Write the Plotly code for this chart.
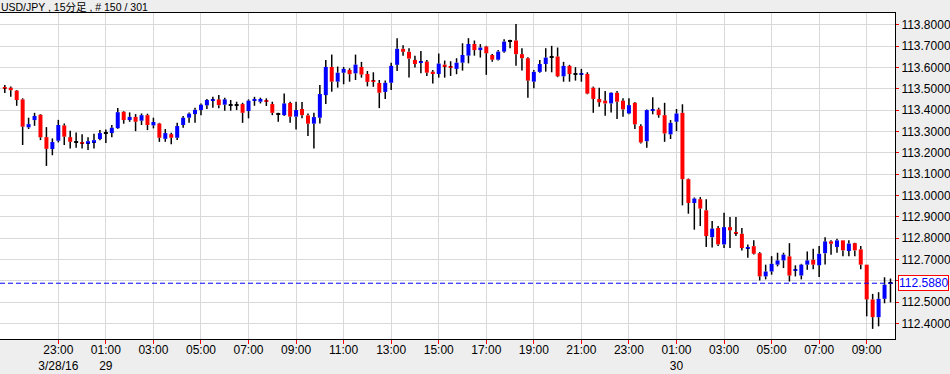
import pandas as pd
import plotly.graph_objects as go

# ---------------- data ----------------
start_time = "2016-03-28 20:45"
n_bars = 150

opens = [113.508, 113.505, 113.491, 113.450, 113.319, 113.353, 113.378, 113.273, 113.217, 113.256,
         113.328, 113.273, 113.248, 113.248, 113.245, 113.250, 113.264, 113.292, 113.292, 113.315,
         113.392, 113.353, 113.368, 113.350, 113.376, 113.328, 113.337, 113.265, 113.287, 113.270,
         113.330, 113.364, 113.381, 113.400, 113.422, 113.444, 113.450, 113.425, 113.422, 113.422,
         113.428, 113.395, 113.444, 113.439, 113.444, 113.428, 113.381, 113.376, 113.433, 113.369,
         113.405, 113.375, 113.336, 113.364, 113.470, 113.602, 113.533, 113.575, 113.588, 113.572,
         113.602, 113.569, 113.536, 113.527, 113.485, 113.528, 113.612, 113.687, 113.673, 113.635,
         113.621, 113.627, 113.580, 113.569, 113.613, 113.602, 113.593, 113.622, 113.655, 113.710,
         113.681, 113.698, 113.658, 113.636, 113.674, 113.726, 113.726, 113.662, 113.643, 113.533,
         113.579, 113.616, 113.648, 113.651, 113.558, 113.607, 113.569, 113.568, 113.569, 113.505,
         113.452, 113.444, 113.431, 113.481, 113.444, 113.384, 113.434, 113.325, 113.254, 113.397,
         113.403, 113.376, 113.286, 113.345, 113.387, 113.076, 112.964, 112.982, 112.930, 112.804,
         112.847, 112.770, 112.851, 112.828, 112.820, 112.753, 112.762, 112.729, 112.620, 112.643,
         112.675, 112.695, 112.714, 112.648, 112.624, 112.675, 112.698, 112.672, 112.729, 112.784,
         112.758, 112.789, 112.739, 112.776, 112.747, 112.675, 112.512, 112.429, 112.515, 112.588]

highs = [113.517, 113.510, 113.494, 113.455, 113.364, 113.387, 113.381, 113.320, 113.267, 113.354,
         113.337, 113.303, 113.295, 113.287, 113.273, 113.289, 113.307, 113.309, 113.330, 113.409,
         113.395, 113.389, 113.381, 113.384, 113.383, 113.364, 113.340, 113.311, 113.293, 113.340,
         113.372, 113.389, 113.411, 113.431, 113.452, 113.462, 113.470, 113.458, 113.447, 113.439,
         113.434, 113.450, 113.462, 113.458, 113.455, 113.439, 113.387, 113.478, 113.439, 113.439,
         113.438, 113.384, 113.387, 113.517, 113.635, 113.660, 113.604, 113.602, 113.596, 113.660,
         113.626, 113.583, 113.577, 113.541, 113.538, 113.622, 113.737, 113.704, 113.690, 113.654,
         113.677, 113.635, 113.588, 113.665, 113.632, 113.629, 113.643, 113.713, 113.737, 113.726,
         113.709, 113.701, 113.663, 113.682, 113.732, 113.729, 113.804, 113.690, 113.648, 113.588,
         113.635, 113.690, 113.701, 113.693, 113.626, 113.612, 113.601, 113.593, 113.577, 113.510,
         113.505, 113.489, 113.483, 113.489, 113.455, 113.455, 113.438, 113.333, 113.403, 113.460,
         113.411, 113.434, 113.353, 113.405, 113.427, 113.079, 112.990, 112.992, 112.982, 112.880,
         112.856, 112.919, 112.898, 112.898, 112.847, 112.769, 112.789, 112.734, 112.675, 112.715,
         112.731, 112.731, 112.776, 112.672, 112.679, 112.737, 112.750, 112.762, 112.804, 112.789,
         112.797, 112.789, 112.789, 112.778, 112.762, 112.675, 112.538, 112.546, 112.616, 112.610]

lows = [113.480, 113.462, 113.420, 113.236, 113.311, 113.326, 113.259, 113.138, 113.188, 113.248,
        113.236, 113.220, 113.223, 113.220, 113.213, 113.220, 113.258, 113.245, 113.272, 113.311,
        113.336, 113.345, 113.301, 113.330, 113.306, 113.314, 113.251, 113.251, 113.240, 113.259,
        113.317, 113.340, 113.340, 113.376, 113.405, 113.411, 113.408, 113.397, 113.397, 113.400,
        113.340, 113.361, 113.420, 113.431, 113.419, 113.376, 113.345, 113.372, 113.340, 113.309,
        113.361, 113.278, 113.220, 113.337, 113.428, 113.486, 113.505, 113.521, 113.533, 113.541,
        113.552, 113.511, 113.509, 113.409, 113.452, 113.494, 113.583, 113.655, 113.552, 113.599,
        113.572, 113.560, 113.525, 113.552, 113.552, 113.560, 113.568, 113.585, 113.619, 113.655,
        113.646, 113.565, 113.627, 113.632, 113.669, 113.690, 113.608, 113.585, 113.458, 113.502,
        113.575, 113.580, 113.577, 113.554, 113.533, 113.533, 113.538, 113.533, 113.474, 113.387,
        113.415, 113.373, 113.389, 113.358, 113.369, 113.380, 113.311, 113.243, 113.223, 113.380,
        113.364, 113.251, 113.264, 113.301, 112.953, 112.914, 112.839, 112.856, 112.758, 112.755,
        112.762, 112.753, 112.753, 112.809, 112.742, 112.708, 112.723, 112.601, 112.606, 112.628,
        112.667, 112.659, 112.596, 112.620, 112.606, 112.651, 112.653, 112.617, 112.676, 112.722,
        112.731, 112.715, 112.715, 112.715, 112.653, 112.433, 112.374, 112.386, 112.494, 112.498]

closes = [113.503, 113.493, 113.447, 113.322, 113.334, 113.372, 113.272, 113.218, 113.250, 113.330,
          113.275, 113.251, 113.248, 113.245, 113.254, 113.259, 113.292, 113.292, 113.317, 113.390,
          113.353, 113.368, 113.345, 113.376, 113.330, 113.344, 113.270, 113.292, 113.270, 113.325,
          113.364, 113.383, 113.401, 113.425, 113.447, 113.450, 113.423, 113.450, 113.422, 113.422,
          113.387, 113.444, 113.452, 113.452, 113.441, 113.387, 113.381, 113.431, 113.369, 113.400,
          113.376, 113.336, 113.367, 113.475, 113.602, 113.533, 113.575, 113.593, 113.568, 113.613,
          113.566, 113.532, 113.532, 113.481, 113.528, 113.607, 113.687, 113.673, 113.641, 113.616,
          113.626, 113.575, 113.569, 113.618, 113.604, 113.599, 113.622, 113.658, 113.710, 113.681,
          113.693, 113.666, 113.636, 113.674, 113.721, 113.726, 113.662, 113.643, 113.538, 113.579,
          113.616, 113.646, 113.648, 113.558, 113.607, 113.569, 113.569, 113.571, 113.477, 113.452,
          113.436, 113.431, 113.481, 113.439, 113.403, 113.423, 113.333, 113.248, 113.400, 113.403,
          113.376, 113.290, 113.340, 113.384, 113.076, 112.964, 112.985, 112.938, 112.809, 112.844,
          112.770, 112.851, 112.836, 112.823, 112.753, 112.758, 112.726, 112.620, 112.643, 112.679,
          112.695, 112.722, 112.624, 112.651, 112.675, 112.695, 112.675, 112.726, 112.784, 112.773,
          112.789, 112.742, 112.774, 112.742, 112.675, 112.512, 112.429, 112.515, 112.581, 112.588]

last_price = 112.588
last_price_label = "112.5880"

y_tick_values = [112.4, 112.5, 112.6, 112.7, 112.8, 112.9, 113.0, 113.1, 113.2, 113.3,
                 113.4, 113.5, 113.6, 113.7, 113.8]
y_tick_labels = ["112.4000", "112.5000", "", "112.7000", "112.8000", "112.9000", "113.0000",
                 "113.1000", "113.2000", "113.3000", "113.4000", "113.5000", "113.6000",
                 "113.7000", "113.8000"]

tick_times = pd.date_range("2016-03-28 23:00", "2016-03-30 09:00", freq="2h")
tick_labels = ["23:00<br>3/28/16", "01:00<br>29", "03:00", "05:00", "07:00", "09:00",
               "11:00", "13:00", "15:00", "17:00", "19:00", "21:00", "23:00",
               "01:00<br>30", "03:00", "05:00", "07:00", "09:00"]

title_text = "USD/JPY , 15分足 , # 150 / 301"

# ---------------- styling ----------------
UP = "#0000FF"
DOWN = "#FF0000"
DOJI = "#000000"
FONT = "Liberation Sans, Arial, Noto Sans CJK JP, sans-serif"
bar_ms = 15 * 60 * 1000
body_width = bar_ms * 0.67
min_body = 0.005

times = pd.date_range(start_time, periods=n_bars, freq="15min")

# wicks are drawn as two pieces (above and below the body)
wick_x, wick_y = [], []
for t, o, h, l, c in zip(times, opens, highs, lows, closes):
    top, bot = max(o, c), min(o, c)
    if h > top:
        wick_x += [t, t, None]
        wick_y += [top, h, None]
    if l < bot:
        wick_x += [t, t, None]
        wick_y += [l, bot, None]

body_base, body_h, body_col = [], [], []
for o, c in zip(opens, closes):
    lo, hi = min(o, c), max(o, c)
    h = hi - lo
    if h < min_body:
        mid = (lo + hi) / 2
        lo = mid - min_body / 2
        h = min_body
    body_base.append(lo)
    body_h.append(h)
    body_col.append(UP if c > o else (DOWN if c < o else DOJI))

fig = go.Figure()
fig.add_trace(go.Bar(x=times, y=body_h, base=body_base, width=body_width,
                     marker=dict(color=body_col, line=dict(width=0)),
                     showlegend=False))
fig.add_trace(go.Scatter(x=wick_x, y=wick_y, mode="lines",
                         line=dict(color="#000000", width=1.5),
                         hoverinfo="skip", showlegend=False))

fig.add_shape(type="line", xref="paper", x0=0, x1=1, yref="y",
              y0=last_price, y1=last_price,
              line=dict(color="#0000FF", width=1, dash="5px,3px"))

fig.add_annotation(xref="paper", x=1, xanchor="left", xshift=3,
                   yref="y", y=last_price, yanchor="middle",
                   text=last_price_label, showarrow=False,
                   font=dict(family=FONT, size=12, color="#0000FF"),
                   bgcolor="#FFFFFF", bordercolor="#FF0000", borderwidth=1, borderpad=0)

x_start = times[0] - pd.Timedelta(minutes=15 * 0.81)
x_end = times[0] + pd.Timedelta(minutes=15 * 149.76)

fig.update_layout(
    template="none",
    width=950, height=374,
    margin=dict(l=0, r=55, t=13, b=35, autoexpand=False),
    paper_bgcolor="#EEEEEE",
    plot_bgcolor="#FFFFFF",
    font=dict(family=FONT, size=12, color="#000000"),
    barmode="overlay",
    title=dict(text=title_text, x=0.001, xanchor="left", xref="container",
               y=1 - 7 / 374, yanchor="middle", yref="container", automargin=False,
               font=dict(family=FONT, size=10.5, color="#000000")),
    xaxis=dict(type="date", range=[x_start, x_end], automargin=False,
               tickvals=list(tick_times), ticktext=tick_labels,
               ticks="outside", ticklen=4, tickcolor="#FF0000", tickwidth=1,
               ticklabelstandoff=-4,
               showgrid=True, gridcolor="#D9D9D9", gridwidth=1,
               showline=True, linecolor="#000000", linewidth=1, mirror=True,
               zeroline=False, tickangle=0,
               tickfont=dict(family=FONT, size=12, color="#000000")),
    yaxis=dict(side="right", range=[112.3265, 113.855], automargin=False,
               tickvals=y_tick_values, ticktext=y_tick_labels,
               ticks="outside", ticklen=3, tickcolor="#FF0000", tickwidth=1,
               showgrid=True, gridcolor="#D9D9D9", gridwidth=1,
               showline=True, linecolor="#000000", linewidth=1,
               zeroline=False,
               tickfont=dict(family=FONT, size=12, color="#000000")),
)

fig.write_html("out.html",
               config={"displayModeBar": False},
               post_script="document.body.style.margin='0px';document.body.style.overflow='hidden';")
